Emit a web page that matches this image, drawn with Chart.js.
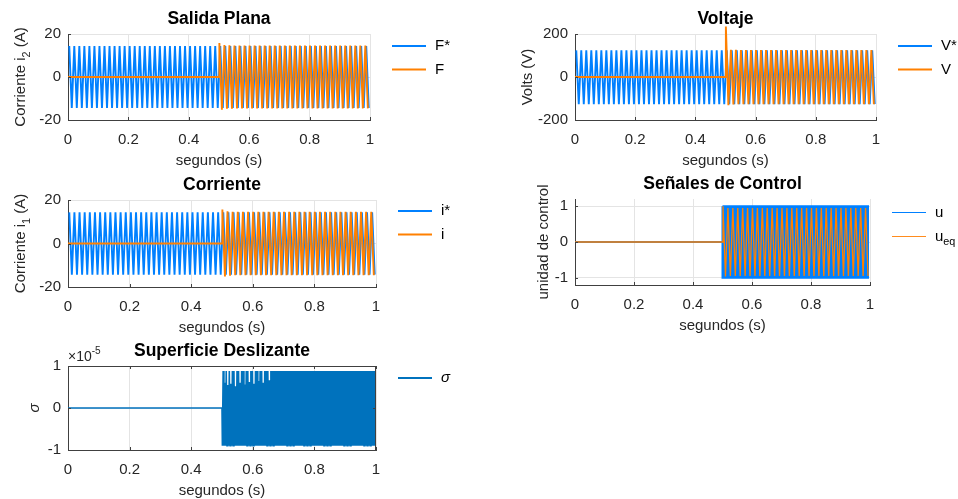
<!DOCTYPE html>
<html>
<head>
<meta charset="utf-8">
<script src="https://cdn.jsdelivr.net/npm/chart.js@4.4.0/dist/chart.umd.min.js"></script>
<style>
  body { margin: 0; background: #fff; }
  #wrap { position: relative; width: 958px; height: 499px; }
  canvas { position: absolute; left: 0; top: 0; }
</style>
</head>
<body>
<div id="wrap">
  <canvas id="salida" width="958" height="499"></canvas>
  <canvas id="voltaje" width="958" height="499"></canvas>
  <canvas id="corriente" width="958" height="499"></canvas>
  <canvas id="control" width="958" height="499"></canvas>
  <canvas id="superficie" width="958" height="499"></canvas>
</div>
<script>
'use strict';

// ---- data ----
const xTicks = [0, 0.2, 0.4, 0.6, 0.8, 1];
const currentTicks = [-20, 0, 20];
const voltTicks = [-200, 0, 200];
const controlTicks = [-1, 0, 1];
const sigmaTicks = [-1, 0, 1];          // shown as x10^-5

const startTime = 0.5;                  // controller switched on at 0.5 s
const halfCycle = 1 / 120;              // 60 Hz signals, one extreme per half period
const switchStep = 1 / 300;             // switching of u after 0.5 s
const sigmaStep = 1 / 400;              // chattering of sigma after 0.5 s

// Salida plana: F* (reference) and F
const fStarPeaks = [
  14.4, -14.4, 14.4, -14.4, 14.4, -14.4, 14.4, -14.4, 14.4, -14.4, 14.4, -14.4, 14.4, -14.4, 14.4, -14.4, 14.4, -14.4, 14.4, -14.4,
  14.4, -14.4, 14.4, -14.4, 14.4, -14.4, 14.4, -14.4, 14.4, -14.4, 14.4, -14.4, 14.4, -14.4, 14.4, -14.4, 14.4, -14.4, 14.4, -14.4,
  14.4, -14.4, 14.4, -14.4, 14.4, -14.4, 14.4, -14.4, 14.4, -14.4, 14.4, -14.4, 14.4, -14.4, 14.4, -14.4, 14.4, -14.4, 14.4, -14.4,
  14.4, -14.4, 14.4, -14.4, 14.4, -14.4, 14.4, -14.4, 14.4, -14.4, 14.4, -14.4, 14.4, -14.4, 14.4, -14.4, 14.4, -14.4, 14.4, -14.4,
  14.4, -14.4, 14.4, -14.4, 14.4, -14.4, 14.4, -14.4, 14.4, -14.4, 14.4, -14.4, 14.4, -14.4, 14.4, -14.4, 14.4, -14.4, 14.4, -14.4,
  14.4, -14.4, 14.4, -14.4, 14.4, -14.4, 14.4, -14.4, 14.4, -14.4, 14.4, -14.4, 14.4, -14.4, 14.4, -14.4, 14.4, -14.4, 14.4, -14.4
];
const fPeaks = [
  15.8, -15.2, 14.9, -14.8, 14.7, -14.7, 14.6, -14.6, 14.6, -14.6, 14.6, -14.6, 14.6, -14.6, 14.6, -14.6, 14.6, -14.6, 14.6, -14.6,
  14.6, -14.6, 14.6, -14.6, 14.6, -14.6, 14.6, -14.6, 14.6, -14.6, 14.6, -14.6, 14.6, -14.6, 14.6, -14.6, 14.6, -14.6, 14.6, -14.6,
  14.6, -14.6, 14.6, -14.6, 14.6, -14.6, 14.6, -14.6, 14.6, -14.6, 14.6, -14.6, 14.6, -14.6, 14.6, -14.6, 14.6, -14.6, 14.6, -14.6
];

// Voltaje: V* and V
const vStarPeaks = [
  124, -126, 124, -126, 124, -126, 124, -126, 124, -126, 124, -126, 124, -126, 124, -126, 124, -126, 124, -126,
  124, -126, 124, -126, 124, -126, 124, -126, 124, -126, 124, -126, 124, -126, 124, -126, 124, -126, 124, -126,
  124, -126, 124, -126, 124, -126, 124, -126, 124, -126, 124, -126, 124, -126, 124, -126, 124, -126, 124, -126,
  124, -126, 124, -126, 124, -126, 124, -126, 124, -126, 124, -126, 124, -126, 124, -126, 124, -126, 124, -126,
  124, -126, 124, -126, 124, -126, 124, -126, 124, -126, 124, -126, 124, -126, 124, -126, 124, -126, 124, -126,
  124, -126, 124, -126, 124, -126, 124, -126, 124, -126, 124, -126, 124, -126, 124, -126, 124, -126, 124, -126
];
const vPeaks = [
  235, -131, 127, -128, 126, -127, 125, -127, 125, -127, 125, -127, 125, -127, 125, -127, 125, -127, 125, -127,
  125, -127, 125, -127, 125, -127, 125, -127, 125, -127, 125, -127, 125, -127, 125, -127, 125, -127, 125, -127,
  125, -127, 125, -127, 125, -127, 125, -127, 125, -127, 125, -127, 125, -127, 125, -127, 125, -127, 125, -127
];

// Corriente: i* and i
const iStarPeaks = [
  14.3, -14.3, 14.3, -14.3, 14.3, -14.3, 14.3, -14.3, 14.3, -14.3, 14.3, -14.3, 14.3, -14.3, 14.3, -14.3, 14.3, -14.3, 14.3, -14.3,
  14.3, -14.3, 14.3, -14.3, 14.3, -14.3, 14.3, -14.3, 14.3, -14.3, 14.3, -14.3, 14.3, -14.3, 14.3, -14.3, 14.3, -14.3, 14.3, -14.3,
  14.3, -14.3, 14.3, -14.3, 14.3, -14.3, 14.3, -14.3, 14.3, -14.3, 14.3, -14.3, 14.3, -14.3, 14.3, -14.3, 14.3, -14.3, 14.3, -14.3,
  14.3, -14.3, 14.3, -14.3, 14.3, -14.3, 14.3, -14.3, 14.3, -14.3, 14.3, -14.3, 14.3, -14.3, 14.3, -14.3, 14.3, -14.3, 14.3, -14.3,
  14.3, -14.3, 14.3, -14.3, 14.3, -14.3, 14.3, -14.3, 14.3, -14.3, 14.3, -14.3, 14.3, -14.3, 14.3, -14.3, 14.3, -14.3, 14.3, -14.3,
  14.3, -14.3, 14.3, -14.3, 14.3, -14.3, 14.3, -14.3, 14.3, -14.3, 14.3, -14.3, 14.3, -14.3, 14.3, -14.3, 14.3, -14.3, 14.3, -14.3
];
const iPeaks = [
  15.6, -15.1, 14.8, -14.8, 14.6, -14.6, 14.6, -14.6, 14.6, -14.6, 14.6, -14.6, 14.6, -14.6, 14.6, -14.6, 14.6, -14.6, 14.6, -14.6,
  14.6, -14.6, 14.6, -14.6, 14.6, -14.6, 14.6, -14.6, 14.6, -14.6, 14.6, -14.6, 14.6, -14.6, 14.6, -14.6, 14.6, -14.6, 14.6, -14.6,
  14.6, -14.6, 14.6, -14.6, 14.6, -14.6, 14.6, -14.6, 14.6, -14.6, 14.6, -14.6, 14.6, -14.6, 14.6, -14.6, 14.6, -14.6, 14.6, -14.6
];

// Senales de control: u (switching) and u_eq
const uSwitch = [
  1, -1, 1, -1, 1, -1, 1, -1, 1, -1, 1, -1, 1, -1, 1, -1, 1, -1, 1, -1, 1, -1, 1, -1, 1, -1, 1, -1, 1, -1,
  1, -1, 1, -1, 1, -1, 1, -1, 1, -1, 1, -1, 1, -1, 1, -1, 1, -1, 1, -1, 1, -1, 1, -1, 1, -1, 1, -1, 1, -1,
  1, -1, 1, -1, 1, -1, 1, -1, 1, -1, 1, -1, 1, -1, 1, -1, 1, -1, 1, -1, 1, -1, 1, -1, 1, -1, 1, -1, 1, -1,
  1, -1, 1, -1, 1, -1, 1, -1, 1, -1, 1, -1, 1, -1, 1, -1, 1, -1, 1, -1, 1, -1, 1, -1, 1, -1, 1, -1, 1, -1,
  1, -1, 1, -1, 1, -1, 1, -1, 1, -1, 1, -1, 1, -1, 1, -1, 1, -1, 1, -1, 1, -1, 1, -1, 1, -1, 1, -1, 1, -1
];
const uEqPeaks = [
  1, -0.96, 0.95, -0.95, 0.95, -0.95, 0.95, -0.95, 0.95, -0.95, 0.95, -0.95, 0.95, -0.95, 0.95, -0.95, 0.95, -0.95, 0.95, -0.95,
  0.95, -0.95, 0.95, -0.95, 0.95, -0.95, 0.95, -0.95, 0.95, -0.95, 0.95, -0.95, 0.95, -0.95, 0.95, -0.95, 0.95, -0.95, 0.95, -0.95,
  0.95, -0.95, 0.95, -0.95, 0.95, -0.95, 0.95, -0.95, 0.95, -0.95, 0.95, -0.95, 0.95, -0.95, 0.95, -0.95, 0.95, -0.95, 0.95, -0.95
];

// Superficie deslizante: sigma, in units of 1e-5
const sigmaE5 = [
  -0.9, 0.88, -0.9, 0.6, -0.9, 0.88, -0.9, 0.55, -0.9, 0.88, -0.9, 0.58, -0.9, 0.88, -0.9, 0.88, -0.9, 0.52, -0.9, 0.88,
  -0.9, 0.88, -0.9, 0.6, -0.9, 0.88, -0.9, 0.88, -0.9, 0.56, -0.9, 0.88, -0.9, 0.88, -0.9, 0.62, -0.9, 0.88, -0.9, 0.88,
  -0.9, 0.58, -0.9, 0.88, -0.9, 0.88, -0.9, 0.64, -0.9, 0.88, -0.9, 0.88, -0.9, 0.6, -0.9, 0.88, -0.9, 0.88, -0.9, 0.88,
  -0.9, 0.66, -0.9, 0.88, -0.9, 0.88, -0.9, 0.88, -0.9, 0.88, -0.9, 0.88, -0.9, 0.88, -0.9, 0.88, -0.9, 0.88, -0.9, 0.88,
  -0.9, 0.88, -0.9, 0.88, -0.9, 0.88, -0.9, 0.88, -0.9, 0.88, -0.9, 0.88, -0.9, 0.88, -0.9, 0.88, -0.9, 0.88, -0.9, 0.88,
  -0.9, 0.88, -0.9, 0.88, -0.9, 0.88, -0.9, 0.88, -0.9, 0.88, -0.9, 0.88, -0.9, 0.88, -0.9, 0.88, -0.9, 0.88, -0.9, 0.88,
  -0.9, 0.88, -0.9, 0.88, -0.9, 0.88, -0.9, 0.88, -0.9, 0.88, -0.9, 0.88, -0.9, 0.88, -0.9, 0.88, -0.9, 0.88, -0.9, 0.88,
  -0.9, 0.88, -0.9, 0.88, -0.9, 0.88, -0.9, 0.88, -0.9, 0.88, -0.9, 0.88, -0.9, 0.88, -0.9, 0.88, -0.9, 0.88, -0.9, 0.88,
  -0.9, 0.88, -0.9, 0.88, -0.9, 0.88, -0.9, 0.88, -0.9, 0.88, -0.9, 0.88, -0.9, 0.88, -0.9, 0.88, -0.9, 0.88, -0.9, 0.88,
  -0.9, 0.88, -0.9, 0.88, -0.9, 0.88, -0.9, 0.88, -0.9, 0.88, -0.9, 0.88, -0.9, 0.88, -0.9, 0.88, -0.9, 0.88, -0.9, 0.88
];

// ---- helpers ----
const blue = 'rgb(0,128,255)';
const orange = 'rgb(255,128,0)';
const matBlue = 'rgb(0,114,189)';
const FONT = '"Liberation Sans", Arial, Helvetica, sans-serif';

// samples placed one step apart starting at t0
function samples(values, t0, step, lead) {
  return values.map((v, k) => ({ x: t0 + (k + lead) * step, y: v }));
}
// signal that stays at zero until the controller starts
function delayed(values, step, lead) {
  return [{ x: 0, y: 0 }, { x: startTime, y: 0 }].concat(samples(values, startTime, step, lead));
}

function partsWidth(ctx, parts, size) {
  let w = 0;
  parts.forEach(p => {
    const s = (p.sub || p.sup) ? size * 0.72 : size;
    ctx.font = (p.it ? 'italic ' : '') + s + 'px ' + FONT;
    w += ctx.measureText(p.t).width;
  });
  return w;
}
// draw text pieces with sub/superscripts; x is the left edge, y the middle
function drawParts(ctx, parts, x, y, size) {
  ctx.textAlign = 'left';
  ctx.textBaseline = 'middle';
  parts.forEach(p => {
    const s = (p.sub || p.sup) ? size * 0.72 : size;
    ctx.font = (p.it ? 'italic ' : '') + s + 'px ' + FONT;
    const dy = p.sub ? size * 0.38 : (p.sup ? -size * 0.38 : 0);
    ctx.fillText(p.t, x, y + dy);
    x += ctx.measureText(p.t).width;
  });
}

const frame = {
  id: 'frame',
  afterDraw(chart, args, o) {
    const { ctx, chartArea: a } = chart;
    const sx = chart.scales.x, sy = chart.scales.y;
    ctx.save();

    // inward tick marks, full box on request
    ctx.strokeStyle = '#404040';
    ctx.lineWidth = 1;
    ctx.beginPath();
    sx.ticks.forEach(t => {
      const px = Math.round(sx.getPixelForValue(t.value)) + 0.5;
      ctx.moveTo(px, a.bottom); ctx.lineTo(px, a.bottom - 3);
      if (o.box) { ctx.moveTo(px, a.top); ctx.lineTo(px, a.top + 3); }
    });
    sy.ticks.forEach(t => {
      const py = Math.round(sy.getPixelForValue(t.value)) + 0.5;
      ctx.moveTo(a.left, py); ctx.lineTo(a.left + 3, py);
      if (o.box) { ctx.moveTo(a.right, py); ctx.lineTo(a.right - 3, py); }
    });
    if (o.box) {
      ctx.moveTo(a.left, Math.round(a.top) + 0.5); ctx.lineTo(a.right, Math.round(a.top) + 0.5);
      ctx.moveTo(Math.round(a.right) - 0.5, a.top); ctx.lineTo(Math.round(a.right) - 0.5, a.bottom);
    }
    ctx.stroke();

    // title
    ctx.fillStyle = '#000';
    ctx.font = 'bold 17.5px ' + FONT;
    ctx.textAlign = 'center';
    ctx.textBaseline = 'middle';
    ctx.fillText(o.title, (a.left + a.right) / 2, a.top - 15);

    // x label
    ctx.fillStyle = '#262626';
    ctx.font = '15px ' + FONT;
    ctx.fillText('segundos (s)', (a.left + a.right) / 2, a.bottom + 41);

    // y label, rotated
    ctx.save();
    ctx.translate(a.left - o.yLabelGap, (a.top + a.bottom) / 2);
    ctx.rotate(-Math.PI / 2);
    const yw = partsWidth(ctx, o.yLabel, 15);
    drawParts(ctx, o.yLabel, -yw / 2, 0, 15);
    ctx.restore();

    // exponent note
    if (o.exponent) {
      drawParts(ctx, o.exponent, a.left, a.top - 9, 14);
    }

    // legend
    o.legend.forEach((item, i) => {
      let ly = a.top + o.legendTop + i * 23.5;
      if (item.width % 2 === 1) ly = Math.round(ly) + 0.5;
      ctx.strokeStyle = item.color;
      ctx.lineWidth = item.width;
      ctx.beginPath();
      ctx.moveTo(a.right + 22, ly); ctx.lineTo(a.right + 56, ly);
      ctx.stroke();
      ctx.fillStyle = '#000';
      drawParts(ctx, item.label, a.right + 65, ly, 15);
    });
    ctx.restore();
  }
};

function makeChart(id, box, yMin, yMax, yTicks, datasets, deco) {
  const W = 958, H = 499, yAxisW = 50, xAxisH = 40;
  return new Chart(document.getElementById(id), {
    type: 'line',
    data: { datasets },
    options: {
      responsive: false,
      animation: false,
      events: [],
      layout: { padding: { left: box.l - yAxisW, right: W - box.r, top: box.t, bottom: H - box.b - xAxisH } },
      elements: { point: { radius: 0 }, line: { tension: 0, borderCapStyle: 'butt' } },
      plugins: { legend: { display: false }, tooltip: { enabled: false }, frame: deco },
      scales: {
        x: {
          type: 'linear', min: 0, max: 1,
          afterFit: s => { s.height = xAxisH; },
          afterBuildTicks: s => { s.ticks = xTicks.map(v => ({ value: v })); },
          grid: { color: '#e4e4e4', drawTicks: false },
          border: { color: '#404040' },
          ticks: { padding: 11, color: '#262626', font: { family: FONT, size: 15 }, maxRotation: 0,
                   callback: v => String(v) }
        },
        y: {
          type: 'linear', min: yMin, max: yMax,
          afterFit: s => { s.width = yAxisW; },
          afterBuildTicks: s => { s.ticks = yTicks.map(v => ({ value: v })); },
          grid: { color: '#e4e4e4', drawTicks: false },
          border: { color: '#404040' },
          ticks: { padding: 7, color: '#262626', font: { family: FONT, size: 15 },
                   callback: v => String(v) }
        }
      }
    },
    plugins: [frame]
  });
}

makeChart('salida', { l: 68, r: 370, t: 34, b: 120 }, -20, 20, currentTicks, [
  { data: samples(fStarPeaks, 0, halfCycle, 0.5), borderColor: blue, borderWidth: 1.9, order: 2 },
  { data: delayed(fPeaks, halfCycle, 0.15), borderColor: orange, borderWidth: 1.9, order: 1 }
], {
  title: 'Salida Plana', yLabelGap: 47, legendTop: 12,
  yLabel: [{ t: 'Corriente i' }, { t: '2', sub: true }, { t: ' (A)' }],
  legend: [{ label: [{ t: 'F*' }], color: blue, width: 2 }, { label: [{ t: 'F' }], color: orange, width: 2 }]
});

makeChart('voltaje', { l: 575, r: 876, t: 34, b: 120 }, -200, 200, voltTicks, [
  { data: samples(vStarPeaks, 0, halfCycle, 0.5), borderColor: blue, borderWidth: 1.9, order: 2 },
  { data: delayed(vPeaks, halfCycle, 0.15), borderColor: orange, borderWidth: 1.9, order: 1,
    clip: { left: 0, right: 0, top: false, bottom: 0 } }
], {
  title: 'Voltaje', yLabelGap: 47, legendTop: 12,
  yLabel: [{ t: 'Volts (V)' }],
  legend: [{ label: [{ t: 'V*' }], color: blue, width: 2 }, { label: [{ t: 'V' }], color: orange, width: 2 }]
});

makeChart('corriente', { l: 68, r: 376, t: 200, b: 287 }, -20, 20, currentTicks, [
  { data: samples(iStarPeaks, 0, halfCycle, 0.5), borderColor: blue, borderWidth: 1.9, order: 2 },
  { data: delayed(iPeaks, halfCycle, 0.15), borderColor: orange, borderWidth: 1.9, order: 1 }
], {
  title: 'Corriente', yLabelGap: 47, legendTop: 11,
  yLabel: [{ t: 'Corriente i' }, { t: '1', sub: true }, { t: ' (A)' }],
  legend: [{ label: [{ t: 'i*' }], color: blue, width: 2 }, { label: [{ t: 'i' }], color: orange, width: 2 }]
});

makeChart('control', { l: 575, r: 870, t: 199, b: 285 }, -1.2, 1.2, controlTicks, [
  { data: delayed(uSwitch, switchStep, 0), borderColor: blue, borderWidth: 2, stepped: 'after', order: 2 },
  { data: delayed(uEqPeaks, halfCycle, 0.2), borderColor: orange, borderWidth: 1.3, order: 1 }
], {
  title: 'Señales de Control', yLabelGap: 31, legendTop: 13,
  yLabel: [{ t: 'unidad de control' }],
  legend: [{ label: [{ t: 'u' }], color: blue, width: 1 },
           { label: [{ t: 'u' }, { t: 'eq', sub: true }], color: 'rgb(255,140,30)', width: 1 }]
});

makeChart('superficie', { l: 68, r: 376, t: 366, b: 450 }, -1, 1, sigmaTicks, [
  { data: delayed(sigmaE5, sigmaStep, 0.5), borderColor: matBlue, borderWidth: 1.6 }
], {
  title: 'Superficie Deslizante', yLabelGap: 33, legendTop: 12, box: true,
  yLabel: [{ t: 'σ', it: true }],
  exponent: [{ t: '×10' }, { t: '-5', sup: true }],
  legend: [{ label: [{ t: 'σ', it: true }], color: matBlue, width: 2 }]
});
</script>
</body>
</html>
